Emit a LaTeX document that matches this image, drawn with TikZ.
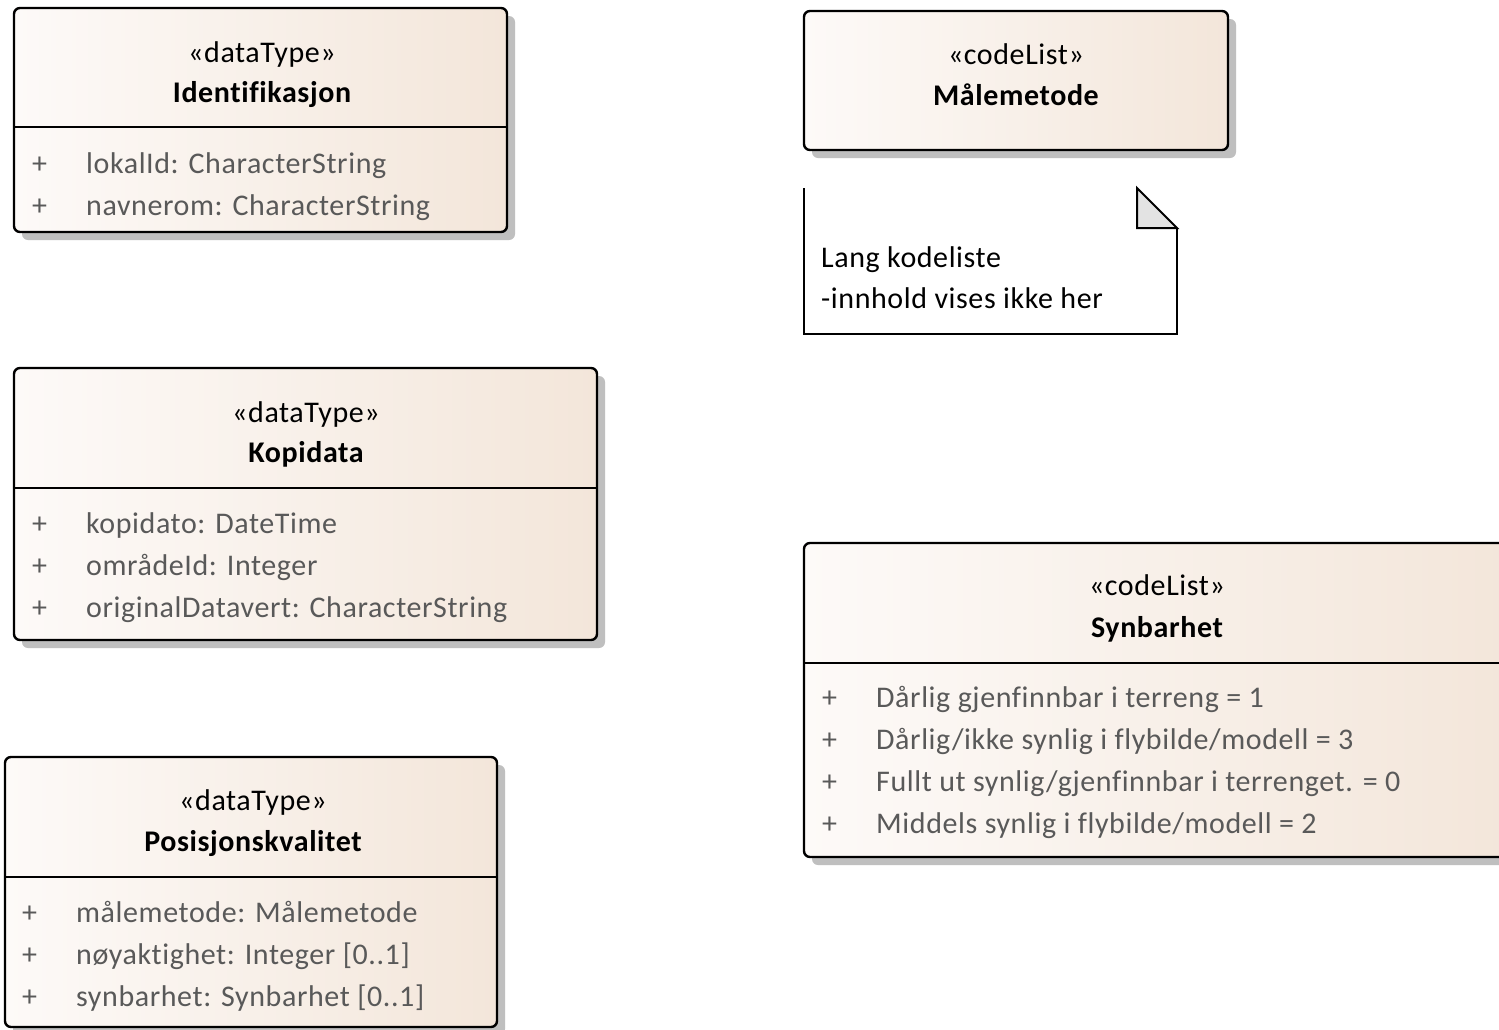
\documentclass[tikz,border=0pt]{standalone}
\usepackage{fontspec}
\setmainfont{Carlito}[LetterSpace=2, Ligatures=NoCommon]
\usetikzlibrary{shadows}
\definecolor{boxL}{HTML}{FDFAF8}
\definecolor{boxR}{HTML}{F3E6DA}
\definecolor{shad}{HTML}{BFBFBF}
\definecolor{attr}{HTML}{595959}
\definecolor{foldc}{HTML}{E3E3E3}
\tikzset{
 classbox/.style={draw=black, line width=2.4pt, rounded corners=6pt, left color=boxL, right color=boxR,
   anchor=north west, inner sep=0pt, outer sep=0pt,
   drop shadow={shadow xshift=8pt, shadow yshift=-8pt, fill=shad, opacity=1}},
 sepline/.style={line width=2.4pt},
 stereo/.style={font=\fontsize{30}{36}\selectfont, inner sep=0pt, anchor=base},
 cname/.style={font=\fontsize{30}{36}\selectfont\bfseries, inner sep=0pt, anchor=base},
 attrtext/.style={font=\fontsize{30}{36}\selectfont, text=attr, inner sep=0pt, anchor=base west},
 notetext/.style={font=\fontsize{30}{36}\selectfont, inner sep=0pt, anchor=base west},
 noteline/.style={line width=2pt, line join=miter},
}
\begin{document}
\begin{tikzpicture}[x=1pt,y=-1pt]
\clip (0,0) rectangle (1499,1029);
\fill[white] (0,0) rectangle (1499,1029);

% ---------- Identifikasjon ----------
\node[classbox, minimum width=493pt, minimum height=224pt] (ident) at (14,8) {};
\draw[sepline] (14,127) -- (507,127);
\node[stereo] (identSt) at (262,62) {«dataType»};
\node[cname] (identNm) at (262,102) {Identifikasjon};
\node[attrtext] (identP1) at (32,173) {+};
\node[attrtext] (identA1) at (86,173) {lokalId: CharacterString};
\node[attrtext] (identP2) at (32,215) {+};
\node[attrtext] (identA2) at (86,215) {navnerom: CharacterString};

% ---------- Kopidata ----------
\node[classbox, minimum width=583pt, minimum height=272pt] (kopi) at (14,368) {};
\draw[sepline] (14,488) -- (597,488);
\node[stereo] (kopiSt) at (306,422) {«dataType»};
\node[cname] (kopiNm) at (306,462) {Kopidata};
\node[attrtext] (kopiP1) at (32,533) {+};
\node[attrtext] (kopiA1) at (86,533) {kopidato: DateTime};
\node[attrtext] (kopiP2) at (32,575) {+};
\node[attrtext] (kopiA2) at (86,575) {områdeId: Integer};
\node[attrtext] (kopiP3) at (32,617) {+};
\node[attrtext] (kopiA3) at (86,617) {originalDatavert: CharacterString};

% ---------- Posisjonskvalitet ----------
\node[classbox, minimum width=492pt, minimum height=270pt] (pos) at (5,757) {};
\draw[sepline] (5,877) -- (497,877);
\node[stereo] (posSt) at (253,810) {«dataType»};
\node[cname] (posNm) at (253,851) {Posisjonskvalitet};
\node[attrtext] (posP1) at (22,922) {+};
\node[attrtext] (posA1) at (76,922) {målemetode: Målemetode};
\node[attrtext] (posP2) at (22,964) {+};
\node[attrtext] (posA2) at (76,964) {nøyaktighet: Integer [0..1]};
\node[attrtext] (posP3) at (22,1006) {+};
\node[attrtext] (posA3) at (76,1006) {synbarhet: Synbarhet [0..1]};

% ---------- Målemetode ----------
\node[classbox, minimum width=424pt, minimum height=139pt] (maal) at (804,11) {};
\node[stereo] (maalSt) at (1016,64) {«codeList»};
\node[cname] (maalNm) at (1016,105) {Målemetode};

% ---------- Note ----------
\coordinate (nTL) at (804,188);
\coordinate (nBL) at (804,334);
\coordinate (nBR) at (1177,334);
\coordinate (nFR) at (1177,228);
\coordinate (nFT) at (1137,188);
\coordinate (nFC) at (1137,228);
\fill[white] (nTL) -- (nFT) -- (nFR) -- (nBR) -- (nBL) -- cycle;
\draw[noteline] (nTL) -- (nBL) -- (nBR) -- (nFR);
\filldraw[noteline, fill=foldc] (nFT) -- (nFR) -- (nFC) -- cycle;
\node[notetext] (note1) at (821,267) {Lang kodeliste};
\node[notetext] (note2) at (821,308) {-innhold vises ikke her};

% ---------- Synbarhet ----------
\node[classbox, minimum width=706pt, minimum height=314pt] (syn) at (804,543) {};
\draw[sepline] (804,663) -- (1510,663);
\node[stereo] (synSt) at (1157,595) {«codeList»};
\node[cname] (synNm) at (1157,637) {Synbarhet};
\node[attrtext] (synP1) at (822,707) {+};
\node[attrtext] (synA1) at (876,707) {Dårlig gjenfinnbar i terreng = 1};
\node[attrtext] (synP2) at (822,749) {+};
\node[attrtext] (synA2) at (876,749) {Dårlig/ikke synlig i flybilde/modell = 3};
\node[attrtext] (synP3) at (822,791) {+};
\node[attrtext] (synA3) at (876,791) {Fullt ut synlig/gjenfinnbar i terrenget. = 0};
\node[attrtext] (synP4) at (822,833) {+};
\node[attrtext] (synA4) at (876,833) {Middels synlig i flybilde/modell = 2};
\end{tikzpicture}
\end{document}
